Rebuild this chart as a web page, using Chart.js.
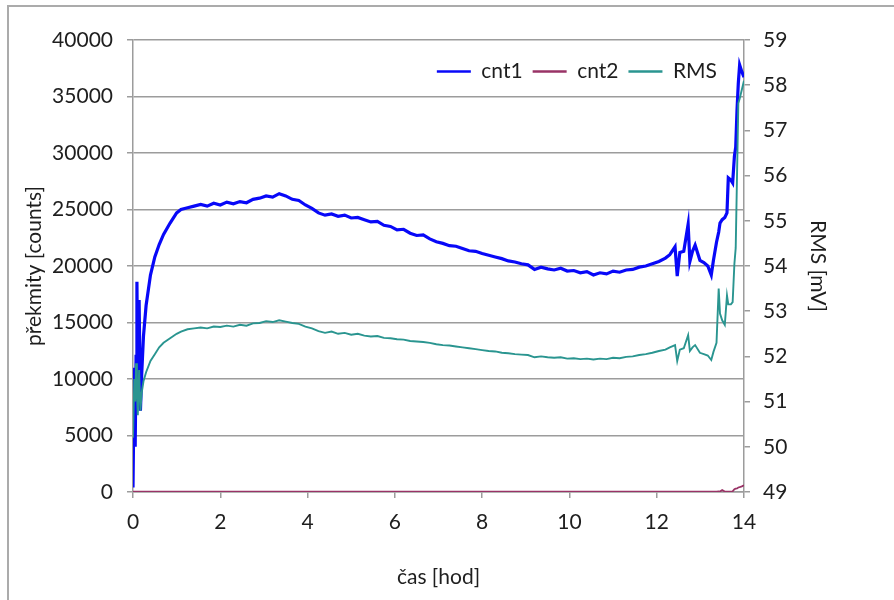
<!DOCTYPE html>
<html>
<head>
<meta charset="utf-8">
<script src="https://cdn.jsdelivr.net/npm/chart.js@4.4.1/dist/chart.umd.min.js"></script>
<style>
  html, body { margin: 0; padding: 0; background: #ffffff; }
  #wrap { position: relative; width: 894px; height: 600px; overflow: hidden; }
  #frame { position: absolute; left: 7px; top: 5px; width: 1000px; height: 1000px;
           border-left: 2px solid #ababab; border-top: 2px solid #ababab; }
  canvas { position: absolute; left: 0; top: 0; }
</style>
</head>
<body>
<div id="wrap">
  <div id="frame"></div>
  <canvas id="c" width="894" height="600"></canvas>
</div>
<script>
// time [hod]
const time = [
  0, 0.03, 0.05, 0.07, 0.09, 0.11, 0.14, 0.17, 0.2, 0.24,
  0.3, 0.4, 0.5, 0.6, 0.7, 0.85, 1.0, 1.1, 1.25, 1.4,
  1.55, 1.7, 1.85, 2.0, 2.15, 2.3, 2.45, 2.6, 2.75, 2.9,
  3.05, 3.2, 3.35, 3.5, 3.65, 3.8, 3.95, 4.1, 4.25, 4.4,
  4.55, 4.7, 4.85, 5.0, 5.15, 5.3, 5.45, 5.6, 5.75, 5.9,
  6.05, 6.2, 6.35, 6.5, 6.65, 6.8, 6.95, 7.1, 7.25, 7.4,
  7.55, 7.7, 7.85, 8.0, 8.15, 8.3, 8.45, 8.6, 8.75, 8.9,
  9.05, 9.2, 9.35, 9.5, 9.65, 9.8, 9.95, 10.1, 10.25, 10.4,
  10.55, 10.7, 10.85, 11.0, 11.15, 11.3, 11.45, 11.6, 11.75, 11.9,
  12.05, 12.2, 12.3, 12.42, 12.47, 12.53, 12.62, 12.72, 12.76, 12.82,
  12.88, 12.99, 13.08, 13.17, 13.25, 13.3, 13.37, 13.42, 13.45, 13.5,
  13.56, 13.61, 13.64, 13.7, 13.74, 13.78, 13.81, 13.84, 13.87, 13.9,
  13.95, 14.0
];
// cnt1 [counts]
const cnt1 = [
  400, 11000, 4000, 12000, 18600, 9000, 17000, 7200, 10500, 13800,
  16500, 19200, 20800, 21900, 22800, 23800, 24700, 25000, 25150, 25300,
  25450, 25300, 25550, 25400, 25650, 25500, 25700, 25600, 25900, 26000,
  26200, 26100, 26400, 26200, 25900, 25800, 25400, 25100, 24700, 24500,
  24600, 24400, 24500, 24250, 24300, 24100, 23900, 23950, 23600, 23500,
  23200, 23250, 22900, 22700, 22750, 22400, 22150, 22000, 21800, 21750,
  21550, 21350, 21300, 21100, 20950, 20800, 20650, 20450, 20350, 20200,
  20100, 19700, 19900, 19750, 19650, 19800, 19550, 19600, 19400, 19500,
  19200, 19400, 19300, 19550, 19450, 19650, 19700, 19900, 20000, 20200,
  20400, 20700, 21000, 21700, 19100, 21200, 21300, 23700, 20400, 21300,
  21850, 20500, 20300, 20000, 19200, 20500, 22100, 23000, 23800, 24100,
  24300, 24700, 27800, 27600, 27350, 29700, 30500, 33800, 36200, 37800,
  37200, 36700
];
// cnt2 [counts]
const cnt2 = [
  20, 40, 30, 40, 30, 40, 30, 40, 30, 40,
  40, 40, 30, 40, 40, 40, 30, 40, 40, 40,
  40, 30, 40, 40, 40, 40, 30, 40, 40, 40,
  40, 40, 40, 30, 40, 40, 40, 40, 30, 40,
  40, 40, 40, 40, 30, 40, 40, 40, 40, 40,
  30, 40, 40, 40, 40, 40, 30, 40, 40, 40,
  40, 40, 40, 30, 40, 40, 40, 40, 40, 30,
  40, 40, 40, 40, 40, 30, 40, 40, 40, 40,
  40, 30, 40, 40, 40, 40, 40, 40, 30, 40,
  40, 40, 40, 40, 40, 40, 40, 40, 40, 40,
  40, 40, 40, 40, 40, 40, 40, 50, 40, 180,
  40, 40, 40, 40, 60, 250, 300, 320, 400, 420,
  500, 600
];
// RMS [mV]
const rms = [
  50.2, 51.5, 51.0, 51.85, 51.2, 50.7, 51.7, 50.8, 51.2, 51.45,
  51.65, 51.9, 52.05, 52.2, 52.3, 52.4, 52.5, 52.55, 52.6, 52.62,
  52.64, 52.62, 52.66, 52.65, 52.68, 52.66, 52.7, 52.68, 52.73, 52.74,
  52.78, 52.76, 52.8, 52.77, 52.74, 52.72, 52.66, 52.62, 52.56, 52.52,
  52.55, 52.5, 52.52, 52.48, 52.5, 52.46, 52.44, 52.45, 52.41, 52.4,
  52.38, 52.37, 52.34, 52.33, 52.32, 52.3, 52.27, 52.25, 52.24, 52.22,
  52.2, 52.18, 52.16, 52.14, 52.12, 52.11, 52.08, 52.07, 52.05, 52.04,
  52.03, 51.98, 52.0, 51.98, 51.97, 51.98, 51.95, 51.96, 51.94, 51.95,
  51.93, 51.95, 51.94, 51.97, 51.96, 51.99, 52.0, 52.03, 52.05, 52.08,
  52.12, 52.15, 52.2, 52.25, 51.9, 52.15, 52.18, 52.47, 52.12, 52.2,
  52.25, 52.08, 52.05, 52.02, 51.92, 52.1, 52.3, 53.5, 52.95, 52.8,
  52.7, 53.35, 53.15, 53.15, 53.2, 54.05, 54.4, 56.0, 57.6, 57.7,
  57.9, 58.1
];
const seriesNames = ['cnt1', 'cnt2', 'RMS'];
const xTitle = 'čas [hod]';
const yLeftTitle = 'překmity [counts]';
const yRightTitle = 'RMS [mV]';

const pts = (arr) => time.map((t, i) => ({ x: t, y: arr[i] }));

const FONT = 'Lato';
const TXT = '#1e1e1e';
const GRID = '#9c9c9c';

// place the library legend inside the plot area (top right), taking no layout space
const legendInside = {
  id: 'legendInside',
  afterInit(chart) {
    const lg = chart.legend;
    const fit = lg.fit.bind(lg);
    lg.fit = function () { fit(); this._h = this.height; this.height = 0; };
  },
  afterLayout(chart) {
    const lg = chart.legend;
    lg.top = 51;
    lg.bottom = 51 + (lg._h || 40);
    lg.left = chart.chartArea.left;
    lg.right = 727;
    lg.width = lg.right - lg.left;
    lg.height = lg.bottom - lg.top;
  }
};

new Chart(document.getElementById('c'), {
  type: 'line',
  data: {
    datasets: [
      { label: seriesNames[0], data: pts(cnt1), yAxisID: 'y', borderColor: '#0808f8', backgroundColor: '#0808f8',
        borderWidth: 3.2, pointRadius: 0, tension: 0, order: 3 },
      { label: seriesNames[1], data: pts(cnt2), yAxisID: 'y', borderColor: '#993366', backgroundColor: '#993366',
        borderWidth: 1.8, pointRadius: 0, tension: 0, order: 2 },
      { label: seriesNames[2], data: pts(rms), yAxisID: 'y1', borderColor: '#2a9590', backgroundColor: '#2a9590',
        borderWidth: 1.9, pointRadius: 0, tension: 0, order: 1 }
    ]
  },
  options: {
    responsive: false,
    animation: false,
    layout: { padding: { left: 0, right: 0, top: 40, bottom: 0 } },
    plugins: {
      legend: {
        position: 'top',
        align: 'end',
        labels: {
          usePointStyle: true,
          pointStyle: 'line',
          pointStyleWidth: 34,
          boxHeight: 20,
          padding: 10,
          color: TXT,
          font: { family: FONT, size: 21 },
          sort: (a, b) => a.datasetIndex - b.datasetIndex,
          generateLabels: (chart) => Chart.defaults.plugins.legend.labels.generateLabels(chart)
            .map(l => Object.assign(l, { lineWidth: 2.5 }))
        }
      },
      tooltip: { enabled: false }
    },
    scales: {
      x: {
        type: 'linear', min: 0, max: 14,
        afterFit: (s) => { s.height = 108; },
        ticks: { stepSize: 2, color: TXT, font: { family: FONT, size: 21 }, padding: 12, maxRotation: 0 },
        grid: { drawOnChartArea: false, drawTicks: true, tickLength: 6, color: GRID, lineWidth: 1.5 },
        border: { color: GRID, width: 1.5 },
        title: { display: true, text: xTitle, color: TXT, font: { family: FONT, size: 21 }, padding: { top: 0, bottom: 10 } }
      },
      y: {
        position: 'left', min: 0, max: 40000,
        afterFit: (s) => { s.width = 133; },
        ticks: { stepSize: 5000, color: TXT, font: { family: FONT, size: 21 }, padding: 14, callback: (v) => String(v) },
        grid: { drawOnChartArea: true, drawTicks: true, tickLength: 6, color: GRID, lineWidth: 1.5 },
        border: { color: GRID, width: 1.5 },
        title: { display: true, text: yLeftTitle, color: TXT, font: { family: FONT, size: 21 }, padding: { top: 22, bottom: 0 } }
      },
      y1: {
        position: 'right', min: 49, max: 59,
        afterFit: (s) => { s.width = 150; },
        ticks: { stepSize: 1, color: TXT, font: { family: FONT, size: 21 }, padding: 13 },
        grid: { drawOnChartArea: false, drawTicks: true, tickLength: 6, color: GRID, lineWidth: 1.5 },
        border: { color: GRID, width: 1.5 },
        title: { display: true, text: yRightTitle, color: TXT, font: { family: FONT, size: 21 }, padding: { top: 64, bottom: 0 } }
      }
    }
  },
  plugins: [legendInside]
});
</script>
</body>
</html>
